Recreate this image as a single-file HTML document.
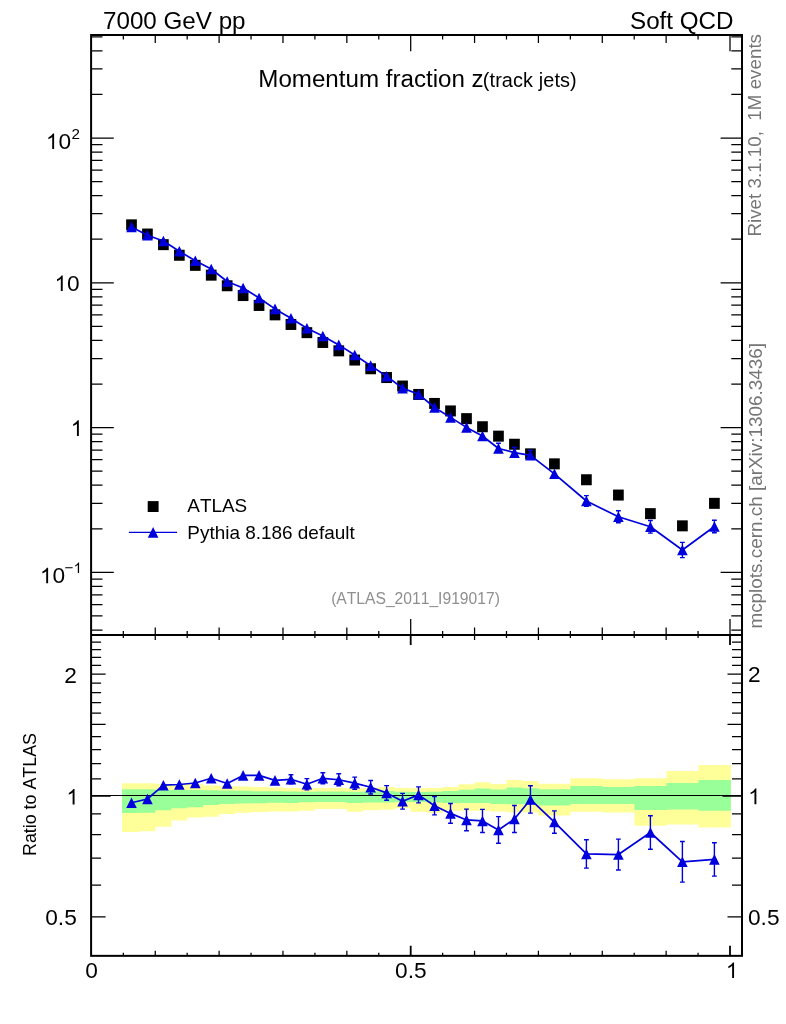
<!DOCTYPE html>
<html><head><meta charset="utf-8"><title>plot</title>
<style>html,body{margin:0;padding:0;background:#fff;}body{width:786px;height:1024px;position:relative;overflow:hidden;font-family:"Liberation Sans",sans-serif;}</style>
</head><body>
<svg width="786" height="1024" viewBox="0 0 786 1024" style="position:absolute;left:0;top:0;will-change:transform;font-kerning:none">
<rect x="0" y="0" width="786" height="1024" fill="#fff"/>
<path d="M122.05 783.20L139.47 783.20L139.47 783.20L155.42 783.20L155.42 784.10L171.36 784.10L171.36 784.30L187.30 784.30L187.30 784.10L203.25 784.10L203.25 785.40L219.19 785.40L219.19 786.00L235.14 786.00L235.14 786.40L251.08 786.40L251.08 786.90L267.02 786.90L267.02 787.60L282.97 787.60L282.97 787.90L298.91 787.90L298.91 788.30L314.86 788.30L314.86 787.90L330.80 787.90L330.80 787.90L346.75 787.90L346.75 788.30L362.69 788.30L362.69 787.90L378.63 787.90L378.63 786.90L394.58 786.90L394.58 787.90L410.54 787.90L410.54 788.30L426.53 788.30L426.53 787.90L442.52 787.90L442.52 786.90L458.50 786.90L458.50 784.30L474.49 784.30L474.49 782.30L490.48 782.30L490.48 783.90L506.47 783.90L506.47 780.10L522.45 780.10L522.45 781.00L538.44 781.00L538.44 783.70L570.41 783.70L570.41 778.20L602.40 778.20L602.40 779.20L634.40 779.20L634.40 778.20L666.40 778.20L666.40 770.90L698.40 770.90L698.40 764.90L730.90 764.90L730.90 827.50L698.40 827.50L698.40 824.60L666.40 824.60L666.40 825.80L634.40 825.80L634.40 812.50L602.40 812.50L602.40 811.80L570.41 811.80L570.41 815.60L538.44 815.60L538.44 812.20L522.45 812.20L522.45 812.20L506.47 812.20L506.47 811.50L490.48 811.50L490.48 810.70L474.49 810.70L474.49 810.70L458.50 810.70L458.50 810.70L442.52 810.70L442.52 812.70L426.53 812.70L426.53 811.80L410.54 811.80L410.54 808.30L394.58 808.30L394.58 809.80L378.63 809.80L378.63 810.20L362.69 810.20L362.69 811.70L346.75 811.70L346.75 809.10L330.80 809.10L330.80 809.10L314.86 809.10L314.86 810.80L298.91 810.80L298.91 811.40L282.97 811.40L282.97 811.40L267.02 811.40L267.02 812.10L251.08 812.10L251.08 812.70L235.14 812.70L235.14 814.00L219.19 814.00L219.19 816.80L203.25 816.80L203.25 817.40L187.30 817.40L187.30 820.60L171.36 820.60L171.36 826.70L155.42 826.70L155.42 831.20L139.47 831.20L139.47 832.00L122.05 832.00Z" fill="#ffff99"/>
<path d="M122.05 789.20L139.47 789.20L139.47 789.20L155.42 789.20L155.42 790.10L171.36 790.10L171.36 790.10L187.30 790.10L187.30 790.00L203.25 790.00L203.25 790.20L219.19 790.20L219.19 790.40L235.14 790.40L235.14 790.80L251.08 790.80L251.08 791.30L267.02 791.30L267.02 791.30L282.97 791.30L282.97 791.50L298.91 791.50L298.91 791.70L314.86 791.70L314.86 791.50L330.80 791.50L330.80 791.50L346.75 791.50L346.75 791.70L362.69 791.70L362.69 791.50L378.63 791.50L378.63 791.10L394.58 791.10L394.58 791.70L410.54 791.70L410.54 792.00L426.53 792.00L426.53 791.70L442.52 791.70L442.52 791.10L458.50 791.10L458.50 789.80L474.49 789.80L474.49 788.40L490.48 788.40L490.48 789.50L506.47 789.50L506.47 787.40L522.45 787.40L522.45 788.20L538.44 788.20L538.44 789.30L570.41 789.30L570.41 785.90L602.40 785.90L602.40 787.10L634.40 787.10L634.40 785.90L666.40 785.90L666.40 783.00L698.40 783.00L698.40 779.90L730.90 779.90L730.90 810.80L698.40 810.80L698.40 809.40L666.40 809.40L666.40 810.10L634.40 810.10L634.40 804.10L602.40 804.10L602.40 804.10L570.41 804.10L570.41 805.60L538.44 805.60L538.44 804.30L522.45 804.30L522.45 804.30L506.47 804.30L506.47 803.90L490.48 803.90L490.48 803.00L474.49 803.00L474.49 803.00L458.50 803.00L458.50 803.00L442.52 803.00L442.52 802.50L426.53 802.50L426.53 801.90L410.54 801.90L410.54 801.90L394.58 801.90L394.58 802.50L378.63 802.50L378.63 802.50L362.69 802.50L362.69 802.90L346.75 802.90L346.75 801.90L330.80 801.90L330.80 801.90L314.86 801.90L314.86 802.20L298.91 802.20L298.91 802.90L282.97 802.90L282.97 802.80L267.02 802.80L267.02 803.20L251.08 803.20L251.08 803.50L235.14 803.50L235.14 804.10L219.19 804.10L219.19 805.10L203.25 805.10L203.25 807.20L187.30 807.20L187.30 808.30L171.36 808.30L171.36 810.20L155.42 810.20L155.42 812.70L139.47 812.70L139.47 813.10L122.05 813.10Z" fill="#99ff99"/>
<line x1="91.1" y1="795.5" x2="742.0" y2="795.5" stroke="#000" stroke-width="1.1"/>
<path d="M91.10 630.02L102.50 630.02M742.00 630.02L731.30 630.02M91.10 615.99L102.50 615.99M742.00 615.99L731.30 615.99M91.10 604.52L102.50 604.52M742.00 604.52L731.30 604.52M91.10 594.83L102.50 594.83M742.00 594.83L731.30 594.83M91.10 586.43L102.50 586.43M742.00 586.43L731.30 586.43M91.10 579.03L102.50 579.03M742.00 579.03L731.30 579.03M91.10 572.40L113.80 572.40M742.00 572.40L720.60 572.40M91.10 528.81L102.50 528.81M742.00 528.81L731.30 528.81M91.10 503.31L102.50 503.31M742.00 503.31L731.30 503.31M91.10 485.22L102.50 485.22M742.00 485.22L731.30 485.22M91.10 471.19L102.50 471.19M742.00 471.19L731.30 471.19M91.10 459.72L102.50 459.72M742.00 459.72L731.30 459.72M91.10 450.03L102.50 450.03M742.00 450.03L731.30 450.03M91.10 441.63L102.50 441.63M742.00 441.63L731.30 441.63M91.10 434.23L102.50 434.23M742.00 434.23L731.30 434.23M91.10 427.60L113.80 427.60M742.00 427.60L720.60 427.60M91.10 384.01L102.50 384.01M742.00 384.01L731.30 384.01M91.10 358.51L102.50 358.51M742.00 358.51L731.30 358.51M91.10 340.42L102.50 340.42M742.00 340.42L731.30 340.42M91.10 326.39L102.50 326.39M742.00 326.39L731.30 326.39M91.10 314.92L102.50 314.92M742.00 314.92L731.30 314.92M91.10 305.23L102.50 305.23M742.00 305.23L731.30 305.23M91.10 296.83L102.50 296.83M742.00 296.83L731.30 296.83M91.10 289.43L102.50 289.43M742.00 289.43L731.30 289.43M91.10 282.80L113.80 282.80M742.00 282.80L720.60 282.80M91.10 239.21L102.50 239.21M742.00 239.21L731.30 239.21M91.10 213.71L102.50 213.71M742.00 213.71L731.30 213.71M91.10 195.62L102.50 195.62M742.00 195.62L731.30 195.62M91.10 181.59L102.50 181.59M742.00 181.59L731.30 181.59M91.10 170.12L102.50 170.12M742.00 170.12L731.30 170.12M91.10 160.43L102.50 160.43M742.00 160.43L731.30 160.43M91.10 152.03L102.50 152.03M742.00 152.03L731.30 152.03M91.10 144.63L102.50 144.63M742.00 144.63L731.30 144.63M91.10 138.00L113.80 138.00M742.00 138.00L720.60 138.00M91.10 94.41L102.50 94.41M742.00 94.41L731.30 94.41M91.10 68.91L102.50 68.91M742.00 68.91L731.30 68.91M91.10 50.82L102.50 50.82M742.00 50.82L731.30 50.82M91.10 36.79L102.50 36.79M742.00 36.79L731.30 36.79M91.10 916.97L105.60 916.97M742.00 916.97L727.50 916.97M91.10 885.02L101.10 885.02M742.00 885.02L732.00 885.02M91.10 858.00L101.10 858.00M742.00 858.00L732.00 858.00M91.10 834.60L101.10 834.60M742.00 834.60L732.00 834.60M91.10 813.96L101.10 813.96M742.00 813.96L732.00 813.96M91.10 796.10L110.60 796.10M742.00 796.10L722.50 796.10M91.10 778.80L101.10 778.80M742.00 778.80L732.00 778.80M91.10 763.55L101.10 763.55M742.00 763.55L732.00 763.55M91.10 749.52L101.10 749.52M742.00 749.52L732.00 749.52M91.10 736.54L101.10 736.54M742.00 736.54L732.00 736.54M91.10 724.45L105.60 724.45M742.00 724.45L727.50 724.45M91.10 713.14L101.10 713.14M742.00 713.14L732.00 713.14M91.10 702.51L101.10 702.51M742.00 702.51L732.00 702.51M91.10 692.50L101.10 692.50M742.00 692.50L732.00 692.50M91.10 683.02L101.10 683.02M742.00 683.02L732.00 683.02M91.10 674.03L105.60 674.03M742.00 674.03L727.50 674.03M91.10 665.48L101.10 665.48M742.00 665.48L732.00 665.48M91.10 657.33L101.10 657.33M742.00 657.33L732.00 657.33M91.10 649.54L101.10 649.54M742.00 649.54L732.00 649.54M91.10 642.08L101.10 642.08M742.00 642.08L732.00 642.08M123.33 35.00L123.33 39.50M123.33 634.90L123.33 631.10M123.33 634.90L123.33 637.90M123.33 955.85L123.33 952.85M155.26 35.00L155.26 43.00M155.26 634.90L155.26 627.40M155.26 634.90L155.26 639.90M155.26 955.85L155.26 950.85M187.19 35.00L187.19 39.50M187.19 634.90L187.19 631.10M187.19 634.90L187.19 637.90M187.19 955.85L187.19 952.85M219.12 35.00L219.12 43.00M219.12 634.90L219.12 627.40M219.12 634.90L219.12 639.90M219.12 955.85L219.12 950.85M251.05 35.00L251.05 39.50M251.05 634.90L251.05 631.10M251.05 634.90L251.05 637.90M251.05 955.85L251.05 952.85M282.98 35.00L282.98 43.00M282.98 634.90L282.98 627.40M282.98 634.90L282.98 639.90M282.98 955.85L282.98 950.85M314.91 35.00L314.91 39.50M314.91 634.90L314.91 631.10M314.91 634.90L314.91 637.90M314.91 955.85L314.91 952.85M346.84 35.00L346.84 43.00M346.84 634.90L346.84 627.40M346.84 634.90L346.84 639.90M346.84 955.85L346.84 950.85M378.77 35.00L378.77 39.50M378.77 634.90L378.77 631.10M378.77 634.90L378.77 637.90M378.77 955.85L378.77 952.85M410.70 35.00L410.70 51.20M410.70 634.90L410.70 619.10M442.63 35.00L442.63 39.50M442.63 634.90L442.63 631.10M442.63 634.90L442.63 637.90M442.63 955.85L442.63 952.85M474.56 35.00L474.56 43.00M474.56 634.90L474.56 627.40M474.56 634.90L474.56 639.90M474.56 955.85L474.56 950.85M506.49 35.00L506.49 39.50M506.49 634.90L506.49 631.10M506.49 634.90L506.49 637.90M506.49 955.85L506.49 952.85M538.42 35.00L538.42 43.00M538.42 634.90L538.42 627.40M538.42 634.90L538.42 639.90M538.42 955.85L538.42 950.85M570.35 35.00L570.35 39.50M570.35 634.90L570.35 631.10M570.35 634.90L570.35 637.90M570.35 955.85L570.35 952.85M602.28 35.00L602.28 43.00M602.28 634.90L602.28 627.40M602.28 634.90L602.28 639.90M602.28 955.85L602.28 950.85M634.21 35.00L634.21 39.50M634.21 634.90L634.21 631.10M634.21 634.90L634.21 637.90M634.21 955.85L634.21 952.85M666.14 35.00L666.14 43.00M666.14 634.90L666.14 627.40M666.14 634.90L666.14 639.90M666.14 955.85L666.14 950.85M698.07 35.00L698.07 39.50M698.07 634.90L698.07 631.10M698.07 634.90L698.07 637.90M698.07 955.85L698.07 952.85M730.00 35.00L730.00 51.20M730.00 634.90L730.00 619.10" stroke="#000" stroke-width="1.25" fill="none"/>
<path d="M410.70 634.90L410.70 645.10M410.70 955.85L410.70 945.85M730.00 634.90L730.00 645.10M730.00 955.85L730.00 945.85" stroke="#000" stroke-width="1.8" fill="none"/>
<rect x="91.1" y="35.0" width="650.9" height="920.85" fill="none" stroke="#000" stroke-width="2"/>
<line x1="91.1" y1="634.9" x2="742.0" y2="634.9" stroke="#000" stroke-width="2"/>
<rect x="126.15" y="219.35" width="10.7" height="11.0" fill="#000"/>
<rect x="142.09" y="228.55" width="10.7" height="11.0" fill="#000"/>
<rect x="158.04" y="239.15" width="10.7" height="11.0" fill="#000"/>
<rect x="173.98" y="249.75" width="10.7" height="11.0" fill="#000"/>
<rect x="189.93" y="259.85" width="10.7" height="11.0" fill="#000"/>
<rect x="205.87" y="269.65" width="10.7" height="11.0" fill="#000"/>
<rect x="221.81" y="280.25" width="10.7" height="11.0" fill="#000"/>
<rect x="237.76" y="290.05" width="10.7" height="11.0" fill="#000"/>
<rect x="253.70" y="299.95" width="10.7" height="11.0" fill="#000"/>
<rect x="269.65" y="309.35" width="10.7" height="11.0" fill="#000"/>
<rect x="285.59" y="318.95" width="10.7" height="11.0" fill="#000"/>
<rect x="301.54" y="327.15" width="10.7" height="11.0" fill="#000"/>
<rect x="317.48" y="336.95" width="10.7" height="11.0" fill="#000"/>
<rect x="333.42" y="345.35" width="10.7" height="11.0" fill="#000"/>
<rect x="349.37" y="354.55" width="10.7" height="11.0" fill="#000"/>
<rect x="365.31" y="363.25" width="10.7" height="11.0" fill="#000"/>
<rect x="381.26" y="372.05" width="10.7" height="11.0" fill="#000"/>
<rect x="397.20" y="380.55" width="10.7" height="11.0" fill="#000"/>
<rect x="413.19" y="388.95" width="10.7" height="11.0" fill="#000"/>
<rect x="429.17" y="397.95" width="10.7" height="11.0" fill="#000"/>
<rect x="445.16" y="405.45" width="10.7" height="11.0" fill="#000"/>
<rect x="461.15" y="413.15" width="10.7" height="11.0" fill="#000"/>
<rect x="477.13" y="421.25" width="10.7" height="11.0" fill="#000"/>
<rect x="493.12" y="430.65" width="10.7" height="11.0" fill="#000"/>
<rect x="509.11" y="438.75" width="10.7" height="11.0" fill="#000"/>
<rect x="525.10" y="448.35" width="10.7" height="11.0" fill="#000"/>
<rect x="549.08" y="458.35" width="10.7" height="11.0" fill="#000"/>
<rect x="581.05" y="474.25" width="10.7" height="11.0" fill="#000"/>
<rect x="613.05" y="489.55" width="10.7" height="11.0" fill="#000"/>
<rect x="645.05" y="508.15" width="10.7" height="11.0" fill="#000"/>
<rect x="677.05" y="520.35" width="10.7" height="11.0" fill="#000"/>
<rect x="709.05" y="497.85" width="10.7" height="11.0" fill="#000"/>
<polyline points="131.5,227.0 147.44411764705882,235.3 163.38823529411764,241.0 179.33235294117648,251.2 195.2764705882353,260.8 211.22058823529412,269.0 227.16470588235293,281.5 243.10882352941175,288.0 259.0529411764706,298.0 274.9970588235294,308.9 290.94117647058823,318.2 306.88529411764705,328.3 322.82941176470587,336.0 338.7735294117647,344.9 354.7176470588235,355.0 370.6617647058824,365.6 386.6058823529412,376.2 402.55,388.1 418.5369565217391,394.2 434.5239130434783,407.5 450.5108695652174,417.4 466.49782608695654,427.4 482.48478260869564,436.0 498.4717391304348,448.5 514.4586956521739,452.6 530.445652173913,455.3 554.4260869565218,473.8 586.4,501.0 618.4,516.8 650.4,526.8 682.4,550.0 714.4,526.5" fill="none" stroke="#0000dd" stroke-width="1.7" stroke-linejoin="round"/>
<path d="M498.4717391304348 443.20L498.4717391304348 448.50M496.0717391304348 443.20L500.8717391304348 443.20M514.4586956521739 447.20L514.4586956521739 452.60M512.0586956521739 447.20L516.8586956521739 447.20M530.445652173913 450.20L530.445652173913 455.30M528.045652173913 450.20L532.845652173913 450.20M586.4 495.65L586.4 506.35M584.0 495.65L588.8 495.65M584.0 506.35L588.8 506.35M618.4 510.80L618.4 522.80M616.0 510.80L620.8 510.80M616.0 522.80L620.8 522.80M650.4 520.50L650.4 533.10M648.0 520.50L652.8 520.50M648.0 533.10L652.8 533.10M682.4 542.40L682.4 557.60M680.0 542.40L684.8 542.40M680.0 557.60L684.8 557.60M714.4 520.30L714.4 532.70M712.0 520.30L716.8 520.30M712.0 532.70L716.8 532.70" stroke="#0000dd" stroke-width="1.4" fill="none"/>
<path d="M126.20 232.30L136.80 232.30L131.50 221.70ZM142.14 240.60L152.74 240.60L147.44 230.00ZM158.09 246.30L168.69 246.30L163.39 235.70ZM174.03 256.50L184.63 256.50L179.33 245.90ZM189.98 266.10L200.58 266.10L195.28 255.50ZM205.92 274.30L216.52 274.30L211.22 263.70ZM221.86 286.80L232.46 286.80L227.16 276.20ZM237.81 293.30L248.41 293.30L243.11 282.70ZM253.75 303.30L264.35 303.30L259.05 292.70ZM269.70 314.20L280.30 314.20L275.00 303.60ZM285.64 323.50L296.24 323.50L290.94 312.90ZM301.59 333.60L312.19 333.60L306.89 323.00ZM317.53 341.30L328.13 341.30L322.83 330.70ZM333.47 350.20L344.07 350.20L338.77 339.60ZM349.42 360.30L360.02 360.30L354.72 349.70ZM365.36 370.90L375.96 370.90L370.66 360.30ZM381.31 381.50L391.91 381.50L386.61 370.90ZM397.25 393.40L407.85 393.40L402.55 382.80ZM413.24 399.50L423.84 399.50L418.54 388.90ZM429.22 412.80L439.82 412.80L434.52 402.20ZM445.21 422.70L455.81 422.70L450.51 412.10ZM461.20 432.70L471.80 432.70L466.50 422.10ZM477.18 441.30L487.78 441.30L482.48 430.70ZM493.17 453.80L503.77 453.80L498.47 443.20ZM509.16 457.90L519.76 457.90L514.46 447.30ZM525.15 460.60L535.75 460.60L530.45 450.00ZM549.13 479.10L559.73 479.10L554.43 468.50ZM581.10 506.30L591.70 506.30L586.40 495.70ZM613.10 522.10L623.70 522.10L618.40 511.50ZM645.10 532.10L655.70 532.10L650.40 521.50ZM677.10 555.30L687.70 555.30L682.40 544.70ZM709.10 531.80L719.70 531.80L714.40 521.20Z" fill="#0000dd"/>
<polyline points="131.5,802.75 147.44411764705882,799.0 163.38823529411764,785.2 179.33235294117648,784.5 195.2764705882353,783 211.22058823529412,778.3 227.16470588235293,783.5 243.10882352941175,775.4 259.0529411764706,775.4 274.9970588235294,780.4 290.94117647058823,779.3 306.88529411764705,784.25 322.82941176470587,778.3 338.7735294117647,779.75 354.7176470588235,783.15 370.6617647058824,787.25 386.6058823529412,792.9 402.55,801.25 418.5369565217391,794.9 434.5239130434783,805.75 450.5108695652174,813.4 466.49782608695654,819.95 482.48478260869564,820.95 498.4717391304348,829.95 514.4586956521739,819 530.445652173913,799.45 554.4260869565218,822.05 586.4,853.95 618.4,854.55 650.4,832.5 682.4,861.8 714.4,859.4" fill="none" stroke="#0000dd" stroke-width="1.7" stroke-linejoin="round"/>
<path d="M290.94117647058823 774.70L290.94117647058823 783.90M288.54117647058825 774.70L293.3411764705882 774.70M288.54117647058825 783.90L293.3411764705882 783.90M306.88529411764705 778.65L306.88529411764705 789.85M304.4852941176471 778.65L309.285294117647 778.65M304.4852941176471 789.85L309.285294117647 789.85M322.82941176470587 772.80L322.82941176470587 783.80M320.4294117647059 772.80L325.22941176470584 772.80M320.4294117647059 783.80L325.22941176470584 783.80M338.7735294117647 773.80L338.7735294117647 785.70M336.3735294117647 773.80L341.17352941176466 773.80M336.3735294117647 785.70L341.17352941176466 785.70M354.7176470588235 777.10L354.7176470588235 789.20M352.3176470588235 777.10L357.1176470588235 777.10M352.3176470588235 789.20L357.1176470588235 789.20M370.6617647058824 780.50L370.6617647058824 794.00M368.2617647058824 780.50L373.06176470588235 780.50M368.2617647058824 794.00L373.06176470588235 794.00M386.6058823529412 785.60L386.6058823529412 800.20M384.2058823529412 785.60L389.00588235294117 785.60M384.2058823529412 800.20L389.00588235294117 800.20M402.55 793.40L402.55 809.10M400.15000000000003 793.40L404.95 793.40M400.15000000000003 809.10L404.95 809.10M418.5369565217391 786.90L418.5369565217391 802.90M416.13695652173914 786.90L420.9369565217391 786.90M416.13695652173914 802.90L420.9369565217391 802.90M434.5239130434783 796.60L434.5239130434783 814.90M432.1239130434783 796.60L436.92391304347825 796.60M432.1239130434783 814.90L436.92391304347825 814.90M450.5108695652174 803.50L450.5108695652174 823.30M448.1108695652174 803.50L452.91086956521735 803.50M448.1108695652174 823.30L452.91086956521735 823.30M466.49782608695654 809.10L466.49782608695654 830.80M464.09782608695656 809.10L468.8978260869565 809.10M464.09782608695656 830.80L468.8978260869565 830.80M482.48478260869564 809.40L482.48478260869564 832.50M480.08478260869566 809.40L484.8847826086956 809.40M480.08478260869566 832.50L484.8847826086956 832.50M498.4717391304348 816.60L498.4717391304348 843.30M496.0717391304348 816.60L500.8717391304348 816.60M496.0717391304348 843.30L500.8717391304348 843.30M514.4586956521739 805.50L514.4586956521739 832.50M512.0586956521739 805.50L516.8586956521739 805.50M512.0586956521739 832.50L516.8586956521739 832.50M530.445652173913 785.80L530.445652173913 813.10M528.045652173913 785.80L532.845652173913 785.80M528.045652173913 813.10L532.845652173913 813.10M554.4260869565218 810.90L554.4260869565218 833.20M552.0260869565218 810.90L556.8260869565217 810.90M552.0260869565218 833.20L556.8260869565217 833.20M586.4 839.80L586.4 868.10M584.0 839.80L588.8 839.80M584.0 868.10L588.8 868.10M618.4 839.10L618.4 870.00M616.0 839.10L620.8 839.10M616.0 870.00L620.8 870.00M650.4 815.70L650.4 849.30M648.0 815.70L652.8 815.70M648.0 849.30L652.8 849.30M682.4 841.50L682.4 882.10M680.0 841.50L684.8 841.50M680.0 882.10L684.8 882.10M714.4 842.70L714.4 876.10M712.0 842.70L716.8 842.70M712.0 876.10L716.8 876.10" stroke="#0000dd" stroke-width="1.4" fill="none"/>
<path d="M126.20 808.05L136.80 808.05L131.50 797.45ZM142.14 804.30L152.74 804.30L147.44 793.70ZM158.09 790.50L168.69 790.50L163.39 779.90ZM174.03 789.80L184.63 789.80L179.33 779.20ZM189.98 788.30L200.58 788.30L195.28 777.70ZM205.92 783.60L216.52 783.60L211.22 773.00ZM221.86 788.80L232.46 788.80L227.16 778.20ZM237.81 780.70L248.41 780.70L243.11 770.10ZM253.75 780.70L264.35 780.70L259.05 770.10ZM269.70 785.70L280.30 785.70L275.00 775.10ZM285.64 784.60L296.24 784.60L290.94 774.00ZM301.59 789.55L312.19 789.55L306.89 778.95ZM317.53 783.60L328.13 783.60L322.83 773.00ZM333.47 785.05L344.07 785.05L338.77 774.45ZM349.42 788.45L360.02 788.45L354.72 777.85ZM365.36 792.55L375.96 792.55L370.66 781.95ZM381.31 798.20L391.91 798.20L386.61 787.60ZM397.25 806.55L407.85 806.55L402.55 795.95ZM413.24 800.20L423.84 800.20L418.54 789.60ZM429.22 811.05L439.82 811.05L434.52 800.45ZM445.21 818.70L455.81 818.70L450.51 808.10ZM461.20 825.25L471.80 825.25L466.50 814.65ZM477.18 826.25L487.78 826.25L482.48 815.65ZM493.17 835.25L503.77 835.25L498.47 824.65ZM509.16 824.30L519.76 824.30L514.46 813.70ZM525.15 804.75L535.75 804.75L530.45 794.15ZM549.13 827.35L559.73 827.35L554.43 816.75ZM581.10 859.25L591.70 859.25L586.40 848.65ZM613.10 859.85L623.70 859.85L618.40 849.25ZM645.10 837.80L655.70 837.80L650.40 827.20ZM677.10 867.10L687.70 867.10L682.40 856.50ZM709.10 864.70L719.70 864.70L714.40 854.10Z" fill="#0000dd"/>
<rect x="147.7" y="501.1" width="10.9" height="10.9" fill="#000"/>
<line x1="128.9" y1="532.4" x2="177.1" y2="532.4" stroke="#0000dd" stroke-width="1.1"/>
<path d="M147.80 537.70L158.40 537.70L153.10 527.10Z" fill="#0000dd"/>
<text x="103.0" y="29.4" font-size="24.2" text-anchor="start" fill="#000" font-family="Liberation Sans, sans-serif" >7000 GeV pp</text>
<text x="733.5" y="28.9" font-size="24.2" text-anchor="end" fill="#000" font-family="Liberation Sans, sans-serif" >Soft QCD</text>
<text x="258.3" y="87.3" font-size="24.15" fill="#000" font-family="Liberation Sans, sans-serif">Momentum fraction z<tspan font-size="19.9" dx="-0.9" letter-spacing="0.1">(track jets)</tspan></text>
<text x="187.3" y="512.0" font-size="18.9" text-anchor="start" fill="#000" font-family="Liberation Sans, sans-serif" >ATLAS</text>
<text x="187.3" y="538.7" font-size="18.95" text-anchor="start" fill="#000" font-family="Liberation Sans, sans-serif" >Pythia 8.186 default</text>
<text x="415.5" y="603.8" font-size="15.65" text-anchor="middle" fill="#8f8f8f" font-family="Liberation Sans, sans-serif" >(ATLAS_2011_I919017)</text>
<path d="M54.12 149.10L52.21 149.10L52.21 136.93Q51.52 137.59 50.40 138.25Q49.29 138.91 48.39 139.24L48.39 137.39Q50.00 136.64 51.19 135.56Q52.39 134.49 52.89 133.49L54.12 133.49Z" fill="#000"/>
<text x="58.38" y="149.1" font-size="22.7" fill="#000" font-family="Liberation Sans, sans-serif">0</text>
<text x="71.40" y="139.0" font-size="15.2" fill="#000" font-family="Liberation Sans, sans-serif">2</text>
<path d="M62.72 291.00L60.81 291.00L60.81 278.83Q60.12 279.49 59.00 280.15Q57.89 280.81 56.99 281.14L56.99 279.29Q58.60 278.54 59.79 277.46Q60.99 276.39 61.49 275.39L62.72 275.39Z" fill="#000"/>
<text x="66.98" y="291.0" font-size="22.7" fill="#000" font-family="Liberation Sans, sans-serif">0</text>
<path d="M78.84 435.90L76.93 435.90L76.93 423.73Q76.24 424.39 75.13 425.05Q74.01 425.71 73.12 426.04L73.12 424.19Q74.72 423.44 75.92 422.36Q77.11 421.29 77.61 420.29L78.84 420.29Z" fill="#000"/>
<path d="M48.12 583.30L46.21 583.30L46.21 571.13Q45.52 571.79 44.40 572.45Q43.29 573.11 42.39 573.44L42.39 571.59Q44.00 570.84 45.19 569.76Q46.39 568.69 46.89 567.69L48.12 567.69Z" fill="#000"/>
<text x="52.38" y="583.3" font-size="22.7" fill="#000" font-family="Liberation Sans, sans-serif">0</text>
<text x="64.60" y="573.0" font-size="15.2" fill="#000" font-family="Liberation Sans, sans-serif">−</text>
<path d="M79.08 573.00L77.80 573.00L77.80 564.85Q77.34 565.29 76.59 565.73Q75.84 566.17 75.24 566.39L75.24 565.16Q76.31 564.65 77.12 563.94Q77.92 563.22 78.25 562.54L79.08 562.54Z" fill="#000"/>
<text x="64.18" y="682.7" font-size="22.7" fill="#000" font-family="Liberation Sans, sans-serif">2</text>
<path d="M74.54 804.60L72.63 804.60L72.63 792.43Q71.94 793.09 70.83 793.75Q69.71 794.41 68.82 794.74L68.82 792.89Q70.42 792.14 71.62 791.06Q72.81 789.99 73.31 788.99L74.54 788.99Z" fill="#000"/>
<text x="45.25" y="925.3" font-size="22.7" fill="#000" font-family="Liberation Sans, sans-serif">0</text>
<text x="57.87" y="925.3" font-size="22.7" fill="#000" font-family="Liberation Sans, sans-serif">.</text>
<text x="64.18" y="925.3" font-size="22.7" fill="#000" font-family="Liberation Sans, sans-serif">5</text>
<text x="748.00" y="682.3" font-size="22.7" fill="#000" font-family="Liberation Sans, sans-serif">2</text>
<path d="M756.36 804.20L754.46 804.20L754.46 792.03Q753.77 792.69 752.65 793.35Q751.53 794.01 750.64 794.34L750.64 792.49Q752.24 791.74 753.44 790.66Q754.64 789.59 755.13 788.59L756.36 788.59Z" fill="#000"/>
<text x="748.00" y="924.7" font-size="22.7" fill="#000" font-family="Liberation Sans, sans-serif">0</text>
<text x="760.62" y="924.7" font-size="22.7" fill="#000" font-family="Liberation Sans, sans-serif">.</text>
<text x="766.93" y="924.7" font-size="22.7" fill="#000" font-family="Liberation Sans, sans-serif">5</text>
<text x="85.19" y="978.1" font-size="22.7" fill="#000" font-family="Liberation Sans, sans-serif">0</text>
<text x="395.02" y="978.1" font-size="22.7" fill="#000" font-family="Liberation Sans, sans-serif">0</text>
<text x="407.64" y="978.1" font-size="22.7" fill="#000" font-family="Liberation Sans, sans-serif">.</text>
<text x="413.96" y="978.1" font-size="22.7" fill="#000" font-family="Liberation Sans, sans-serif">5</text>
<path d="M734.05 978.00L732.14 978.00L732.14 965.83Q731.46 966.49 730.34 967.15Q729.22 967.81 728.33 968.14L728.33 966.29Q729.93 965.54 731.13 964.46Q732.33 963.39 732.82 962.39L734.05 962.39Z" fill="#000"/>
<text transform="translate(36.2,856.0) rotate(-90) scale(0.96,1.0)" font-size="18.6" fill="#000" font-family="Liberation Sans, sans-serif">Ratio to ATLAS</text>
<text transform="translate(760.9,34.0) rotate(-90)" font-size="18.8" text-anchor="end" fill="#757575" font-family="Liberation Sans, sans-serif" xml:space="preserve">Rivet 3.1.10,  1M events</text>
<text transform="translate(761.5,628.6) rotate(-90)" font-size="18.9" fill="#757575" font-family="Liberation Sans, sans-serif">mcplots.cern.ch [arXiv:1306.3436]</text>
</svg>
</body></html>
